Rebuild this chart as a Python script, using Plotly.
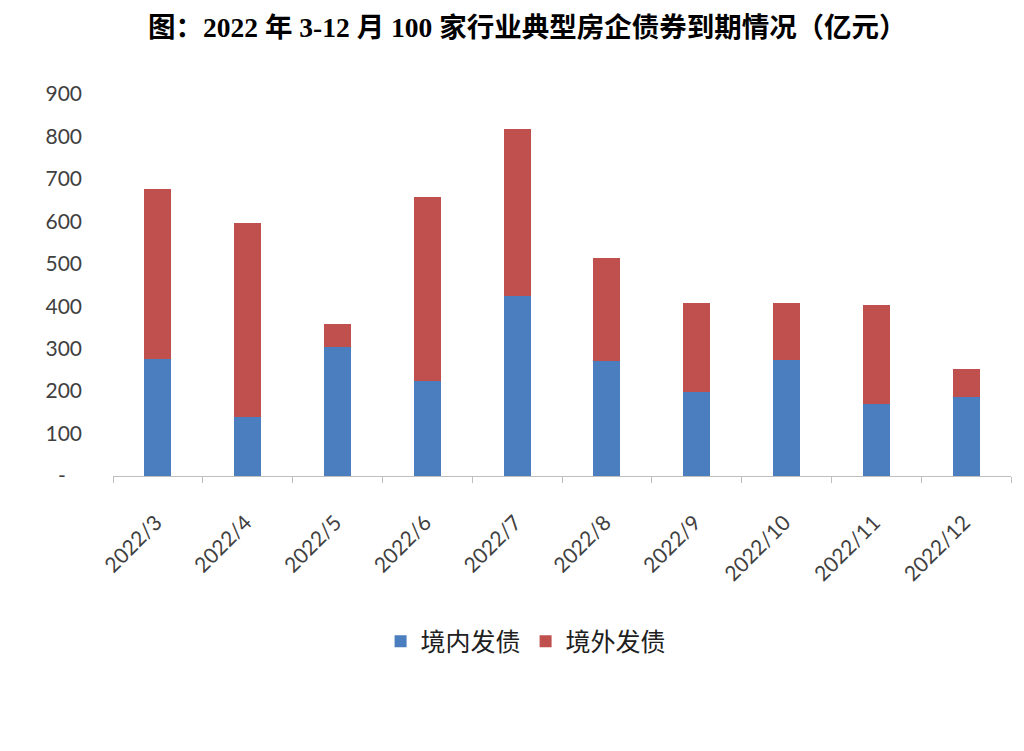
import plotly.graph_objects as go

categories = ["2022/3", "2022/4", "2022/5", "2022/6", "2022/7",
              "2022/8", "2022/9", "2022/10", "2022/11", "2022/12"]
domestic = [276, 138, 303, 225, 423, 272, 197, 274, 170, 186]
overseas = [400, 459, 54, 432, 395, 242, 211, 134, 234, 65]
y_tick_vals = [0, 100, 200, 300, 400, 500, 600, 700, 800, 900]
y_tick_text = ["-\u00a0\u00a0\u00a0", "100", "200", "300", "400", "500", "600", "700", "800", "900"]
title_text = "图：2022 年 3-12 月 100 家行业典型房企债券到期情况（亿元）"

font_main = "Lato, 'Noto Sans CJK SC', sans-serif"

fig = go.Figure()
fig.add_trace(go.Bar(x=categories, y=domestic, name="境内发债",
                     marker=dict(color="#4A7EBF", line=dict(width=0))))
fig.add_trace(go.Bar(x=categories, y=overseas, name="境外发债",
                     marker=dict(color="#C0504D", line=dict(width=0))))

fig.update_layout(
    width=1024, height=751,
    barmode="stack",
    bargap=0.7,
    paper_bgcolor="#FFFFFF",
    plot_bgcolor="#FFFFFF",
    margin=dict(l=113, r=13, t=94, b=274.5),
    title=dict(text="<b>" + title_text + "</b>", x=0.515, xanchor="center",
               y=0.963, yanchor="middle",
               font=dict(family="'Liberation Serif', 'Noto Sans CJK SC', serif",
                         size=27.5, color="#000000")),
    font=dict(family=font_main, color="#404040"),
    legend=dict(orientation="h", x=0.46, xanchor="center", y=-0.433, yanchor="middle",
                font=dict(family="'Noto Sans CJK SC', sans-serif", size=25, color="#202020"),
                itemwidth=30, traceorder="normal"),
    showlegend=True,
)
fig.update_xaxes(
    type="category",
    showline=True, linecolor="#BFBFBF", linewidth=1,
    ticks="outside", tickson="boundaries", ticklen=6, tickcolor="#BFBFBF",
    tickangle=-45,
    tickfont=dict(family=font_main, size=21, color="#404040"),
    showgrid=False,
    ticklabelshift=-2,
    ticklabelstandoff=25,
)
fig.update_yaxes(
    range=[0, 900],
    tickvals=y_tick_vals, ticktext=y_tick_text,
    showline=False, showgrid=False, zeroline=False,
    ticks="",
    tickfont=dict(family=font_main, size=21, color="#404040"),
    ticklabelstandoff=30,
)

fig.write_html("out.html")
